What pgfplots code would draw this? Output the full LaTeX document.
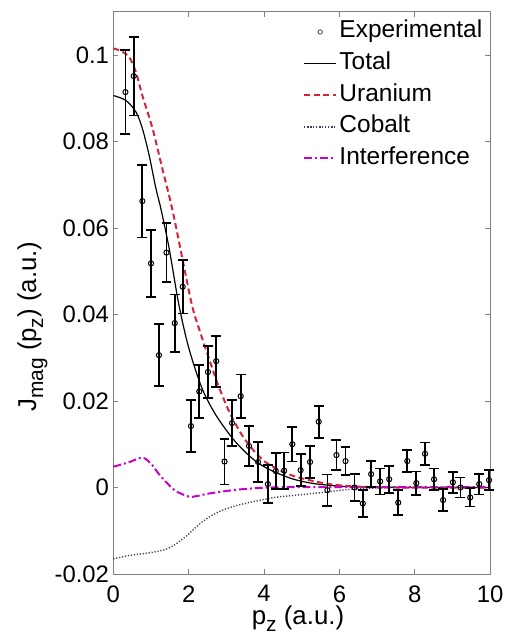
\documentclass[border=0pt]{standalone}
\usepackage{fontspec}
\setmainfont{Liberation Sans}
\usepackage{pgfplots}
\pgfplotsset{compat=1.18}

\definecolor{urared}{RGB}{215,35,55}
\definecolor{cobalt}{RGB}{60,60,95}
\definecolor{interf}{RGB}{200,0,200}

\newcommand{\sub}[1]{\raisebox{-3.5pt}{\fontsize{10.5}{12}\selectfont #1}}

% experimental points: p_z, J, error
\pgfplotstableread{
x     y        e
0.32  0.0914   0.0097
0.54  0.0951   0.0091
0.77  0.0662   0.0084
1.00  0.0518   0.0077
1.21  0.0306   0.0072
1.41  0.0543   0.0068
1.63  0.0380   0.0066
1.84  0.0464   0.0062
2.06  0.0142   0.0060
2.28  0.0222   0.0062
2.51  0.0267   0.0060
2.73  0.0292   0.0059
2.95  0.0060   0.0053
3.15  0.0149   0.0053
3.38  0.0211   0.0050
3.60  0.0096   0.0046
3.84  0.0059   0.0046
4.10  0.0008   0.0044
4.31  0.0038   0.0042
4.53  0.0039   0.0042
4.75  0.0100   0.0040
4.97  0.0040   0.0037
5.22  0.0059   0.0037
5.45  0.0152   0.0037
5.68  -0.0006  0.0036
5.92  0.0075   0.0035
6.16  0.0061   0.0032
6.40  0.0000   0.0032
6.62  -0.0037  0.0031
6.84  0.0031   0.0030
7.08  0.0014   0.0030
7.32  0.0019   0.0031
7.56  -0.0035  0.0029
7.80  0.0061   0.0026
8.04  0.0010   0.0027
8.27  0.0078   0.0026
8.51  0.0019   0.0025
8.75  -0.0029  0.0026
9.01  0.0012   0.0024
9.21  0.0000   0.0023
9.47  -0.0023  0.0021
9.71  0.0008   0.0024
9.97  0.0017   0.0023
}\expdata

\begin{document}
\begin{tikzpicture}
\begin{axis}[
  scale only axis, width=189.5pt, height=282.8pt,
  xmin=0, xmax=10, ymin=-0.02, ymax=0.11,
  xtick={0,2,4,6,8,10}, xticklabels={0,2,4,6,8,10},
  ytick={-0.02,0,0.02,0.04,0.06,0.08,0.1},
  yticklabels={-0.02,0,0.02,0.04,0.06,0.08,0.1},
  scaled ticks=false, tick pos=both, tick align=inside,
  major tick length=2.5pt,
  axis line style={gray}, every tick/.style={gray, line width=0.4pt},
  font=\fontsize{12}{14}\selectfont,
  tick label style={font=\fontsize{12}{14}\selectfont, black},
  yticklabel style={inner sep=2pt},
  xticklabel style={inner sep=2pt, yshift=-3.5pt},
  label style={font=\fontsize{13}{15}\selectfont},
  xlabel={p\sub{z} (a.u.)},
  ylabel={J\sub{mag} (p\sub{z}) (a.u.)},
  xlabel style={at={(rel axis cs:0.49,-0.0896)}, anchor=base},
  ylabel style={at={(rel axis cs:-0.205,0.44)}, anchor=base},
  legend style={draw=none, fill=none, at={(rel axis cs:0.503,0.99)}, anchor=north west,
    font=\fontsize{12.3}{14}\selectfont, inner sep=0pt, row sep=1.5pt,
    nodes={inner sep=1.2pt, text height=9pt, text depth=3pt}},
  legend cell align=left,
  legend image code/.code={\draw[mark repeat=2,mark phase=2,#1] plot coordinates {(0pt,0pt) (8pt,0pt) (16pt,0pt)};},
  clip=false,
]
\addlegendimage{only marks, mark=o, mark size=1.1pt, gray!80!black, mark options={line width=0.5pt}}
\addlegendentry{Experimental}

\addplot[black, line width=0.6pt, smooth] coordinates {
  (0,0.0906)(0.33,0.0895)(0.6,0.0868)(0.77,0.0830)(0.95,0.0768)(1.13,0.0691)
  (1.26,0.0645)(1.48,0.0553)(1.74,0.0422)(2.0,0.0323)(2.35,0.0230)(2.71,0.0169)
  (3.15,0.0115)(3.5,0.0082)(3.85,0.0056)(4.25,0.0037)(4.75,0.0020)(5.25,0.0010)
  (5.75,0.0005)(6.25,0.0002)(7,0.0001)(8,0)(10,0)};
\addlegendentry{Total}

\addplot[urared, line width=1pt, dash pattern=on 3pt off 1.8pt, smooth] coordinates {
  (0,0.1015)(0.2,0.1009)(0.42,0.0995)(0.6,0.0960)(0.77,0.0906)(1.04,0.0830)
  (1.3,0.0737)(1.56,0.0645)(1.83,0.0530)(2.09,0.0420)(2.3,0.0360)(2.53,0.0300)
  (2.79,0.0235)(3.06,0.0178)(3.3,0.0138)(3.5,0.0110)(3.8,0.0078)(4.1,0.0055)
  (4.64,0.0031)(5.2,0.0017)(5.8,0.0007)(6.5,0.0002)(7.5,0)(10,0)};
\addlegendentry{Uranium}

\addplot[cobalt, line width=0.7pt, dash pattern=on 0.6pt off 0.9pt, smooth] coordinates {
  (0,-0.0165)(0.42,-0.0157)(0.8,-0.0153)(1.21,-0.0147)(1.45,-0.0141)(1.65,-0.0131)
  (1.87,-0.0117)(2.09,-0.0100)(2.31,-0.0083)(2.53,-0.0069)(2.75,-0.0058)(2.97,-0.0050)
  (3.3,-0.0041)(3.59,-0.0035)(4.29,-0.0023)(5.17,-0.0015)(5.7,-0.0010)(6.3,-0.0004)
  (7,-0.0001)(8,0)(10,0)};
\addlegendentry{Cobalt}

\addplot[interf, line width=1pt, dash pattern=on 4pt off 1.5pt on 1pt off 1.5pt, smooth] coordinates {
  (0,0.0048)(0.4,0.0058)(0.77,0.0069)(1.0,0.0055)(1.21,0.0031)(1.45,0.0008)
  (1.65,-0.0008)(2.0,-0.0021)(2.2,-0.0020)(2.53,-0.0014)(3.0,-0.0008)(3.41,-0.0004)
  (4.1,0)(5,0.0001)(6,0.0001)(8,0.0001)(10,0.0001)};
\addlegendentry{Interference}

\addplot[black, only marks, mark=o, mark size=1.3pt, mark options={line width=0.5pt},
  error bars/.cd, y dir=both, y explicit,
  error bar style={line width=0.9pt},
  error mark options={rotate=90, mark size=2.5pt, line width=0.9pt}]
  table[x=x, y=y, y error=e] {\expdata};
\addlegendimage{empty legend}

\coordinate (bbA) at (rel axis cs:-0.3008,-0.107);
\coordinate (bbB) at (rel axis cs:1.0449,1.0207);
\end{axis}
\path (bbA) rectangle (bbB);
\end{tikzpicture}
\end{document}
